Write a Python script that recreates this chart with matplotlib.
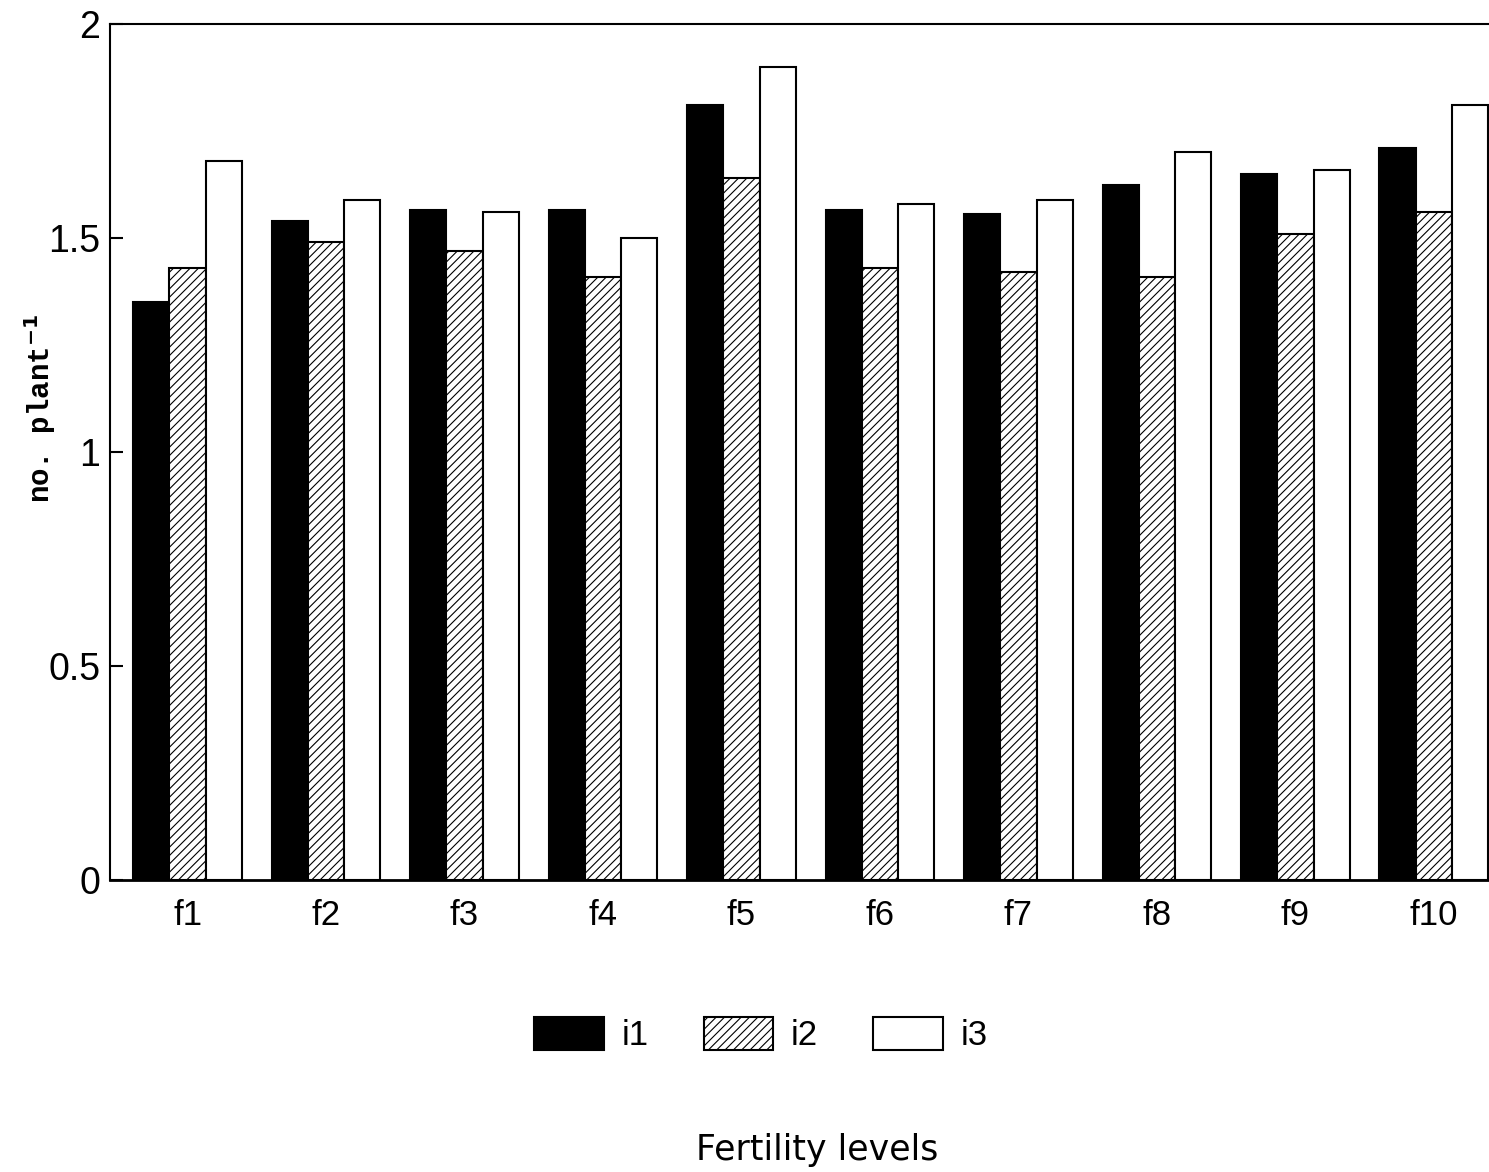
"""Bar chart: no. plant^-1 by fertility level for three irrigation levels."""
import matplotlib
matplotlib.use("Agg")
import matplotlib.pyplot as plt
import numpy as np

fertility = ["f1", "f2", "f3", "f4", "f5", "f6", "f7", "f8", "f9", "f10"]
i1 = [1.35, 1.54, 1.565, 1.565, 1.81, 1.565, 1.555, 1.625, 1.65, 1.71]
i2 = [1.43, 1.49, 1.47, 1.41, 1.64, 1.43, 1.42, 1.41, 1.51, 1.56]
i3 = [1.68, 1.59, 1.56, 1.50, 1.90, 1.58, 1.59, 1.70, 1.66, 1.81]
series_names = ["i1", "i2", "i3"]
y_ticks = [0, 0.5, 1, 1.5, 2]
y_tick_labels = ["0", "0.5", "1", "1.5", "2"]

plt.rcParams["font.family"] = ["Liberation Sans", "DejaVu Sans"]
plt.rcParams["hatch.linewidth"] = 0.8

fig = plt.figure(figsize=(14.89, 11.72), dpi=100)
ax = fig.add_axes([0.0739, 0.2491, 0.93, 0.7304])

x = np.arange(len(fertility))
w = 0.262
styles = [
    dict(facecolor="black", edgecolor="black"),
    dict(facecolor="white", edgecolor="black", hatch="////"),
    dict(facecolor="white", edgecolor="black"),
]
for k, (vals, name) in enumerate(zip([i1, i2, i3], series_names)):
    ax.bar(x + (k - 1) * w, vals, w, label=name, linewidth=1.5, **styles[k])

# group centres sit a little left of the label positions in the scan
ax.set_xlim(-0.56, 9.44)
ax.set_ylim(0, 2)
ax.set_yticks(y_ticks)
ax.set_yticklabels(y_tick_labels, fontsize=27)
ax.set_xticks(x)
ax.set_xticklabels(fertility, fontsize=25)
ax.tick_params(axis="y", direction="in", length=9, width=1.5, pad=7)
ax.tick_params(axis="x", length=0, pad=14)
ax.spines["right"].set_visible(False)
for s in ["left", "top"]:
    ax.spines[s].set_linewidth(1.5)
ax.spines["bottom"].set_linewidth(2)

fig.text(40 / 1489, 1 - 408 / 1172, r"no. plant$^{\mathbf{-1}}$", rotation=90,
         ha="center", va="center", fontsize=21, fontweight="bold",
         family="Liberation Mono")
fig.text(817 / 1489, 1 - 1150 / 1172, "Fertility levels", ha="center",
         va="center", fontsize=25, family="DejaVu Sans")

fig.legend(loc="center", bbox_to_anchor=(0.511, 0.117), ncol=3,
           frameon=False, fontsize=25, handlelength=2.0, handleheight=1.05,
           handletextpad=0.5, columnspacing=1.6)

plt.savefig("out.png", dpi=100)
